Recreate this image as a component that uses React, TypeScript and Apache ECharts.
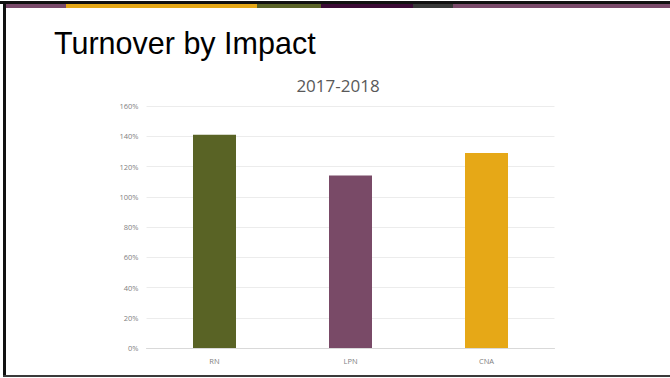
import React, { useEffect, useRef } from "react";
import * as echarts from "echarts";

const categories = ["RN", "LPN", "CNA"];
const values = [141, 114, 129];
const barColors = ["#596325", "#794a67", "#e6a817"];
const yTicks = [0, 20, 40, 60, 80, 100, 120, 140, 160];
const slideTitle = "Turnover by Impact";
const chartTitle = "2017-2018";
const stripe = [
  { x0: 6, x1: 66, color: "#7a4a6a" },
  { x0: 66, x1: 257, color: "#e6a817" },
  { x0: 257, x1: 321, color: "#5a6328" },
  { x0: 321, x1: 413, color: "#3b0b35" },
  { x0: 413, x1: 453, color: "#383838" },
  { x0: 453, x1: 670, color: "#7a4a6a" },
];

export default function App() {
  const ref = useRef<HTMLDivElement>(null);
  useEffect(() => {
    if (!ref.current) return;
    const chart = echarts.init(ref.current, undefined, { renderer: "svg" });
    const graphics: any[] = [
      { type: "rect", shape: { x: 0, y: 0, width: 670, height: 378 }, style: { fill: "#ffffff" }, z: -10 },
      { type: "rect", shape: { x: 0, y: 1, width: 670, height: 3 }, style: { fill: "#111111" } },
      ...stripe.map((s) => ({
        type: "rect",
        shape: { x: s.x0, y: 4, width: s.x1 - s.x0, height: 4 },
        style: { fill: s.color },
      })),
      { type: "rect", shape: { x: 3, y: 1, width: 3, height: 376 }, style: { fill: "#111111" } },
      { type: "rect", shape: { x: 3, y: 375, width: 667, height: 2 }, style: { fill: "#3a3a3a" } },
      {
        type: "text",
        x: 54,
        y: 43,
        style: {
          text: slideTitle,
          fontFamily: "Liberation Sans, Arial, sans-serif",
          fontSize: 30.5,
          fill: "#000000",
          align: "left",
          verticalAlign: "middle",
        },
      },
      {
        type: "text",
        x: 338,
        y: 85,
        style: {
          text: chartTitle,
          fontFamily: "Open Sans, sans-serif",
          fontSize: 17,
          fill: "#595959",
          align: "center",
          verticalAlign: "middle",
        },
      },
    ];
    chart.setOption({
      animation: false,
      graphic: graphics,
      grid: { left: 146.5, right: 115.5, top: 106, bottom: 30, containLabel: false },
      xAxis: {
        type: "category",
        data: categories,
        axisLine: { lineStyle: { color: "#d9d9d9", width: 1 } },
        axisTick: { show: false },
        axisLabel: {
          color: "#7f7f7f",
          fontSize: 7.5,
          fontFamily: "Open Sans, sans-serif",
          margin: 9,
        },
      },
      yAxis: {
        type: "value",
        min: 0,
        max: 160,
        interval: 20,
        axisLine: { show: false },
        axisTick: { show: false },
        splitLine: { lineStyle: { color: "#ececec", width: 1 } },
        axisLabel: {
          color: "#7f7f7f",
          fontSize: 7.5,
          fontFamily: "Open Sans, sans-serif",
          margin: 8,
          formatter: (v: number) => (yTicks.includes(v) ? v + "%" : ""),
        },
      },
      series: [
        {
          type: "bar",
          barWidth: 43,
          data: values.map((v, i) => ({ value: v, itemStyle: { color: barColors[i] } })),
        },
      ],
    });
    return () => chart.dispose();
  }, []);
  return (
    <div
      ref={ref}
      style={{ position: "absolute", left: 0, top: 0, width: 670, height: 378 }}
    />
  );
}
